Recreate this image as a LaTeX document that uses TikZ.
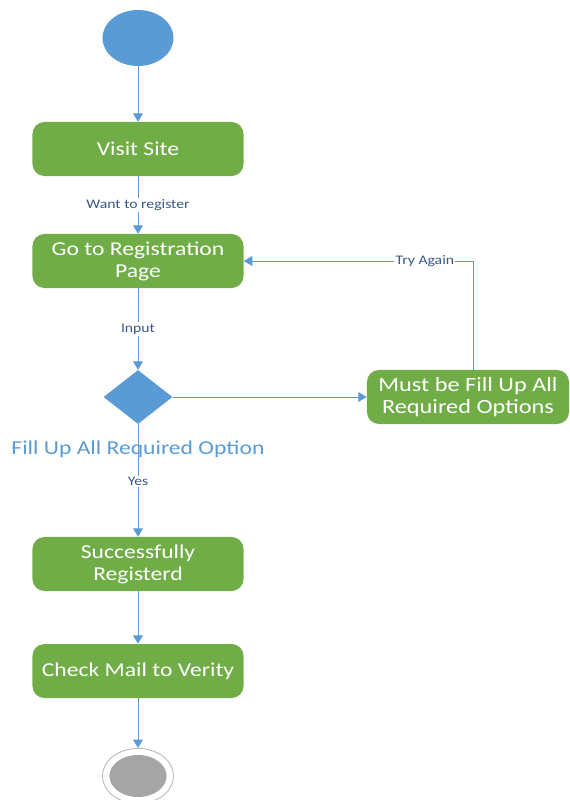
\documentclass[tikz,border=0pt]{standalone}
\usepackage{fontspec}
\setmainfont[FakeStretch=1.2]{Carlito}
\usetikzlibrary{shapes.geometric,arrows.meta}
\definecolor{actgreen}{RGB}{112,173,71}
\definecolor{flowblue}{RGB}{91,155,213}
\definecolor{labelblue}{RGB}{58,88,132}
\definecolor{endgray}{RGB}{165,165,165}

\begin{document}
\begin{tikzpicture}[x=0.025cm,y=-0.025cm]
			\tikzset{activity/.style={fill=actgreen,text=white,rounded corners=0.3cm,minimum width=5.275cm,minimum height=1.35cm,inner sep=0pt,align=center,font=\fontsize{14}{15.6}\selectfont}}
			\tikzset{flow/.style={draw=flowblue,line width=0.7pt,-{Triangle[width=7pt,length=6pt]}}}
			\tikzset{guard/.style={fill=white,text=labelblue,inner sep=1pt,font=\fontsize{9.3}{10}\selectfont}}
			\useasboundingbox (0,0) rectangle (570,800);
			\node[ellipse,fill=flowblue,minimum width=1.775cm,minimum height=1.4cm,inner sep=0pt] (start) at (138,38) {};
			\node[activity] (visit) at (138,149) {Visit Site};
			\node[activity] (regpage) at (138,261) {Go to Registration\\Page};
			\node[diamond,fill=flowblue,minimum width=1.725cm,minimum height=1.35cm,inner sep=0pt] (check) at (138,397) {};
			\node[activity,minimum width=5.05cm,font=\fontsize{14.4}{15.6}\selectfont] (mustfill) at (468,397) {Must be Fill Up All\\Required Options};
			\node[text=flowblue,font=\fontsize{14}{15}\selectfont] (fillnote) at (138,449) {Fill Up All Required Option};
			\node[activity] (success) at (138,564) {Successfully\\Registerd};
			\node[activity] (checkmail) at (138,671) {Check Mail to Verity};
			\node[ellipse,draw=endgray!80,line width=0.6pt,fill=white,minimum width=1.775cm,minimum height=1.38cm,inner sep=0pt] (finish) at (138,776) {};
			\node[ellipse,fill=endgray,minimum width=1.43cm,minimum height=1.05cm,inner sep=0pt] (finishdot) at (finish) {};
			\coordinate (turn) at (473,261);
			\draw[flow] (start) -- (visit);
			\draw[flow] (visit) -- node[guard]{Want to register} (regpage);
			\draw[flow] (regpage) -- node[guard]{Input} (check);
			\draw[flow] (check) -- (mustfill);
			\draw[flow] (mustfill.north -| turn) -- (turn) -- node[guard,pos=0.21]{Try Again} (regpage.east);
			\draw[flow] (check) -- node[guard,pos=0.51]{Yes} (success);
			\draw[flow] (success) -- (checkmail);
			\draw[flow] (checkmail) -- (finish);
		\end{tikzpicture}
\end{document}
